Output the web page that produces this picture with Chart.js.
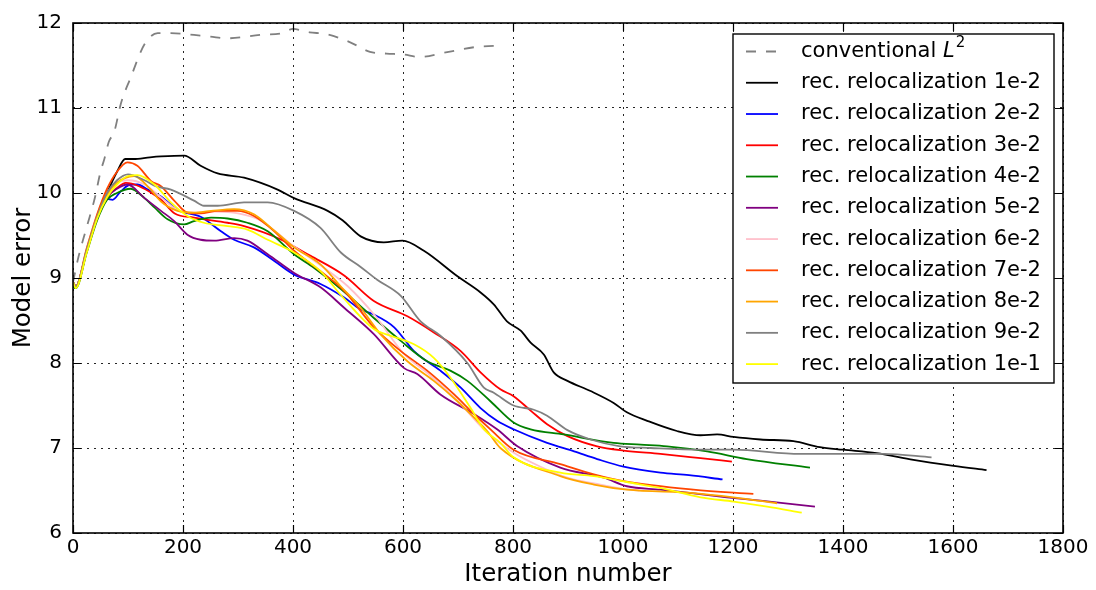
<!DOCTYPE html>
<html>
<head>
<meta charset="utf-8">
<script src="https://cdn.jsdelivr.net/npm/chart.js@4.4.1/dist/chart.umd.min.js"></script>
<style>
html, body { margin: 0; padding: 0; background: #fff; }
#wrap { width: 1096px; height: 590px; }
</style>
</head>
<body>
<div id="wrap"><canvas id="errChart" width="1096" height="590"></canvas></div>
<script>
// axis ticks
const xTicks = [0, 200, 400, 600, 800, 1000, 1200, 1400, 1600, 1800];
const yTicks = [6, 7, 8, 9, 10, 11, 12];

// [iteration, model error]
const conventionalL2 = [[0,8.95],[10,9.25],[25,9.6],[40,9.95],[50,10.25],[57,10.4],[65,10.6],[75,10.72],[87,11.05],[105,11.36],[130,11.75],[154,11.88],[178,11.88],[220,11.86],[250,11.84],[280,11.82],[340,11.86],[380,11.88],[400,11.93],[430,11.89],[460,11.87],[505,11.77],[540,11.66],[570,11.64],[600,11.63],[630,11.6],[675,11.65],[735,11.72],[765,11.73]];
const reloc1e2 = [[0,8.95],[5,8.9],[25,9.32],[44,9.71],[62,10.0],[80,10.25],[95,10.4],[110,10.4],[140,10.42],[160,10.43],[202,10.44],[232,10.32],[263,10.23],[311,10.18],[372,10.04],[402,9.94],[463,9.79],[490,9.68],[523,9.49],[565,9.42],[599,9.44],[638,9.32],[699,9.02],[741,8.83],[765,8.69],[789,8.49],[814,8.38],[832,8.24],[856,8.1],[874,7.89],[899,7.79],[941,7.67],[983,7.53],[1007,7.42],[1044,7.32],[1098,7.2],[1141,7.15],[1171,7.16],[1201,7.13],[1250,7.1],[1310,7.08],[1358,7.01],[1400,6.98],[1461,6.94],[1528,6.86],[1601,6.79],[1661,6.74]];
const reloc2e2 = [[0,8.95],[5,8.9],[25,9.32],[44,9.71],[62,9.93],[72,9.92],[87,10.02],[105,10.1],[117,10.1],[136,10.04],[160,9.96],[190,9.8],[232,9.72],[269,9.55],[293,9.45],[329,9.36],[366,9.2],[402,9.04],[450,8.93],[493,8.77],[523,8.63],[547,8.57],[584,8.42],[620,8.14],[668,7.91],[705,7.71],[741,7.47],[771,7.32],[801,7.22],[862,7.06],[911,6.96],[953,6.87],[1001,6.78],[1068,6.71],[1120,6.68],[1181,6.63]];
const reloc3e2 = [[0,8.95],[5,8.9],[25,9.32],[44,9.71],[62,9.95],[80,10.06],[96,10.12],[120,10.08],[160,9.92],[185,9.76],[220,9.71],[281,9.65],[311,9.61],[372,9.47],[432,9.26],[493,9.03],[547,8.73],[608,8.55],[656,8.36],[705,8.14],[741,7.89],[777,7.69],[801,7.61],[832,7.44],[862,7.28],[899,7.14],[953,7.02],[1001,6.97],[1068,6.93],[1141,6.88],[1198,6.84]];
const reloc4e2 = [[0,8.9],[5,8.88],[25,9.3],[44,9.68],[62,9.92],[80,10.0],[105,10.05],[130,9.94],[148,9.83],[172,9.69],[202,9.63],[220,9.67],[251,9.71],[281,9.7],[317,9.65],[354,9.55],[402,9.28],[438,9.12],[487,8.87],[547,8.53],[596,8.26],[644,8.02],[686,7.91],[717,7.79],[759,7.55],[801,7.3],[832,7.22],[892,7.16],[983,7.06],[1032,7.04],[1080,7.02],[1153,6.96],[1225,6.87],[1340,6.77]];
const reloc5e2 = [[0,8.95],[5,8.9],[25,9.32],[44,9.71],[62,9.95],[80,10.05],[99,10.1],[130,9.94],[160,9.79],[184,9.67],[208,9.51],[232,9.45],[257,9.44],[293,9.47],[317,9.44],[354,9.28],[402,9.06],[450,8.89],[493,8.65],[547,8.34],[602,7.94],[626,7.87],[668,7.63],[729,7.4],[771,7.22],[808,7.02],[886,6.77],[965,6.65],[1007,6.55],[1068,6.51],[1189,6.42],[1250,6.38],[1349,6.31]];
const reloc6e2 = [[0,8.95],[5,8.9],[25,9.35],[44,9.75],[62,10.0],[80,10.12],[100,10.15],[130,10.1],[160,9.95],[190,9.8],[220,9.77],[260,9.78],[300,9.76],[340,9.68],[400,9.38],[450,9.15],[500,8.9],[550,8.55],[600,8.12],[650,7.85],[700,7.55],[750,7.2],[800,6.95],[850,6.78],[900,6.65],[950,6.58],[1000,6.52],[1030,6.5]];
const reloc7e2 = [[0,8.95],[5,8.9],[25,9.35],[44,9.75],[62,10.05],[80,10.25],[99,10.36],[117,10.32],[142,10.14],[160,10.08],[184,9.91],[208,9.77],[232,9.76],[263,9.79],[299,9.79],[329,9.73],[366,9.55],[402,9.32],[450,9.08],[493,8.85],[547,8.42],[596,8.14],[644,7.91],[693,7.63],[729,7.4],[759,7.22],[801,6.98],[886,6.81],[947,6.69],[1001,6.61],[1128,6.51],[1237,6.46]];
const reloc8e2 = [[0,8.95],[5,8.9],[25,9.33],[44,9.72],[62,9.98],[80,10.12],[111,10.2],[140,10.05],[160,9.9],[190,9.79],[220,9.77],[251,9.79],[293,9.81],[329,9.75],[360,9.59],[402,9.36],[450,9.16],[487,8.9],[523,8.65],[559,8.34],[608,8.02],[656,7.79],[699,7.55],[735,7.32],[753,7.2],[777,7.0],[886,6.67],[947,6.57],[1007,6.51],[1128,6.47],[1201,6.42],[1280,6.35]];
const reloc9e2 = [[0,8.95],[5,8.9],[25,9.33],[44,9.72],[62,10.0],[80,10.15],[100,10.22],[130,10.15],[150,10.08],[178,10.04],[220,9.91],[238,9.85],[263,9.85],[311,9.89],[354,9.89],[402,9.79],[450,9.59],[487,9.3],[523,9.13],[553,8.98],[596,8.79],[632,8.49],[668,8.32],[717,8.0],[747,7.71],[765,7.65],[801,7.5],[838,7.45],[862,7.38],[899,7.21],[941,7.1],[995,7.02],[1050,7.0],[1141,6.98],[1201,6.98],[1322,6.93],[1400,6.93],[1474,6.93],[1561,6.89]];
const reloc1e1 = [[0,8.95],[5,8.88],[25,9.3],[44,9.7],[62,9.95],[80,10.1],[100,10.2],[117,10.21],[148,10.1],[178,9.89],[208,9.73],[238,9.65],[281,9.61],[317,9.57],[354,9.45],[402,9.3],[450,9.08],[487,8.8],[547,8.4],[578,8.32],[620,8.22],[656,8.06],[686,7.83],[723,7.47],[747,7.22],[777,7.06],[801,6.89],[886,6.71],[947,6.67],[1007,6.6],[1068,6.53],[1141,6.42],[1201,6.37],[1262,6.31],[1325,6.24]];

const seriesLabels = ["conventional L²", "rec. relocalization 1e-2", "rec. relocalization 2e-2", "rec. relocalization 3e-2", "rec. relocalization 4e-2", "rec. relocalization 5e-2", "rec. relocalization 6e-2", "rec. relocalization 7e-2", "rec. relocalization 8e-2", "rec. relocalization 9e-2", "rec. relocalization 1e-1"];
const seriesData = [conventionalL2, reloc1e2, reloc2e2, reloc3e2, reloc4e2, reloc5e2, reloc6e2, reloc7e2, reloc8e2, reloc9e2, reloc1e1];
const seriesColors = ["#808080", "#000000", "#0000ff", "#ff0000", "#008000", "#800080", "#ffc0cb", "#ff4500", "#ffa500", "#808080", "#ffff00"];

const FONT = "'DejaVu Sans', sans-serif";

const datasets = seriesData.map(function (pts, i) {
  return {
    label: seriesLabels[i],
    data: pts.map(p => ({x: p[0], y: p[1]})),
    borderColor: seriesColors[i],
    backgroundColor: seriesColors[i],
    borderWidth: 1.8,
    borderDash: i === 0 ? [10, 10] : [],
    pointRadius: 0,
    cubicInterpolationMode: "monotone",
    fill: false,
    order: seriesData.length - i   // later series on top, like matplotlib
  };
});

// frame, inward ticks and in-axes legend
const axesDecor = {
  id: "axesDecor",
  afterDatasetsDraw(chart) {
    const ctx = chart.ctx;
    const a = chart.chartArea;
    const xs = chart.scales.x, ys = chart.scales.y;
    ctx.save();
    ctx.strokeStyle = "#000";
    ctx.lineWidth = 1.2;
    ctx.beginPath();
    xTicks.forEach(function (v) {
      const px = Math.round(xs.getPixelForValue(v)) + 0.5;
      ctx.moveTo(px, a.bottom); ctx.lineTo(px, a.bottom - 8);
      ctx.moveTo(px, a.top); ctx.lineTo(px, a.top + 8);
    });
    yTicks.forEach(function (v) {
      const py = Math.round(ys.getPixelForValue(v)) + 0.5;
      ctx.moveTo(a.left, py); ctx.lineTo(a.left + 8, py);
      ctx.moveTo(a.right, py); ctx.lineTo(a.right - 8, py);
    });
    ctx.stroke();
    ctx.lineWidth = 1.6;
    ctx.strokeRect(a.left, a.top, a.right - a.left, a.bottom - a.top);
    ctx.restore();
  },
  afterDraw(chart) {
    const ctx = chart.ctx;
    const a = chart.chartArea;
    const boxR = a.right - 9, boxT = a.top + 11;
    const boxL = boxR - 321, boxB = boxT + 349;
    ctx.save();
    ctx.fillStyle = "#fff";
    ctx.fillRect(boxL, boxT, boxR - boxL, boxB - boxT);
    ctx.strokeStyle = "#000";
    ctx.lineWidth = 1.4;
    ctx.strokeRect(boxL, boxT, boxR - boxL, boxB - boxT);
    ctx.textBaseline = "middle";
    ctx.fillStyle = "#000";
    chart.data.datasets.forEach(function (ds, i) {
      const cy = boxT + 17.5 + i * 31.26;
      ctx.beginPath();
      ctx.setLineDash(ds.borderDash);
      ctx.strokeStyle = ds.borderColor;
      ctx.lineWidth = ds.borderWidth;
      ctx.moveTo(boxL + 13, cy); ctx.lineTo(boxL + 45, cy);
      ctx.stroke();
      ctx.setLineDash([]);
      const tx = boxL + 68;
      if (i === 0) {
        ctx.font = "21px " + FONT;
        const pre = "conventional ";
        ctx.fillText(pre, tx, cy);
        let w = ctx.measureText(pre).width;
        ctx.font = "italic 21px " + FONT;
        ctx.fillText("L", tx + w, cy);
        w += ctx.measureText("L").width + 1;
        ctx.font = "15px " + FONT;
        ctx.fillText("2", tx + w, cy - 8);
      } else {
        ctx.font = "21px " + FONT;
        ctx.fillText(ds.label, tx, cy);
      }
    });
    ctx.restore();
  }
};

new Chart(document.getElementById("errChart").getContext("2d"), {
  type: "line",
  data: { datasets: datasets },
  options: {
    responsive: false,
    animation: false,
    layout: { padding: { left: 0, right: 33, top: 20, bottom: 0 } },
    plugins: { legend: { display: false }, tooltip: { enabled: false } },
    scales: {
      x: {
        type: "linear",
        min: 0, max: 1800,
        afterBuildTicks: s => { s.ticks = xTicks.map(v => ({value: v})); },
        afterFit: s => { s.height = 57; },
        ticks: { color: "#000", font: { family: FONT, size: 20 }, padding: 3, maxRotation: 0, callback: v => String(v) },
        grid: { color: "rgba(0,0,0,0.85)", lineWidth: 1, drawTicks: false },
        border: { display: false, dash: [2, 5] },
        title: { display: true, text: "Iteration number", color: "#000", font: { family: FONT, size: 24.5 }, padding: { top: 0, bottom: 1 } }
      },
      y: {
        type: "linear",
        min: 6, max: 12,
        afterBuildTicks: s => { s.ticks = yTicks.map(v => ({value: v})); },
        afterFit: s => { s.width = 73; },
        ticks: { color: "#000", font: { family: FONT, size: 20 }, padding: 11, callback: v => String(v) },
        grid: { color: "rgba(0,0,0,0.85)", lineWidth: 1, drawTicks: false },
        border: { display: false, dash: [2, 5] },
        title: { display: true, text: "Model error", color: "#000", font: { family: FONT, size: 24.5 }, padding: { top: 9, bottom: 0 } }
      }
    }
  },
  plugins: [axesDecor]
});
</script>
</body>
</html>
